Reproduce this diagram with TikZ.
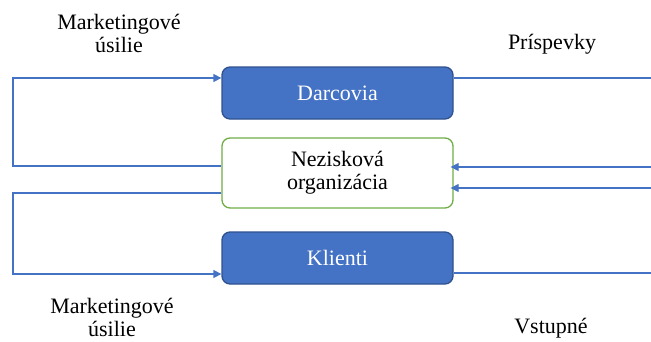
\documentclass[tikz,border=0pt]{standalone}
\usepackage{fontspec}
\setmainfont{Liberation Serif}
\usetikzlibrary{arrows.meta}
\definecolor{obox}{HTML}{4472C4}
\definecolor{oedge}{HTML}{2F528F}
\definecolor{ogreen}{HTML}{70AD47}
\begin{document}
\begin{tikzpicture}[x=1pt,y=1pt,
  bluebox/.style={draw=oedge,fill=obox,line width=1.3pt,rounded corners=8pt,minimum width=231pt,minimum height=52pt,text=white,font=\fontsize{22}{23}\selectfont,inner sep=0pt},
  greenbox/.style={draw=ogreen,fill=white,line width=1.3pt,rounded corners=8pt,minimum width=231pt,minimum height=70pt,align=center,font=\fontsize{22}{23}\selectfont,inner sep=0pt},
  lbl/.style={align=center,font=\fontsize{22}{23}\selectfont,inner sep=0pt},
  conn/.style={draw=obox,line width=1.3pt},
  arr/.style={conn,-{Triangle[length=8pt,width=8pt]}}]
\useasboundingbox (0,0) rectangle (651,341);
\node[bluebox] (dar) at (337.5,248) {Darcovia};
\node[greenbox] (nez) at (337.5,168) {Nezisková\\organizácia};
\node[bluebox] (kli) at (337.5,83) {Klienti};
\coordinate (r1) at (651,263);
\coordinate (r2) at (651,174);
\coordinate (r3) at (651,153);
\coordinate (r4) at (651,68);
% left loops
\draw[arr] (nez.west |- 0,175) -- (13,175) -- (13,263) -- (dar.west |- 0,263);
\draw[arr] (nez.west |- 0,148) -- (13,148) -- (13,67) -- (kli.west |- 0,67);
% right lines
\draw[conn] (dar.east |- r1) -- (r1);
\draw[arr,shorten >=-3pt] (r2) -- (nez.east |- r2);
\draw[arr,shorten >=-3pt] (r3) -- (nez.east |- r3);
\draw[conn] (kli.east |- r4) -- (r4);
% labels
\node[lbl] (m1) at (119,308) {Marketingové\\úsilie};
\node[lbl,anchor=base] (pr) at (552,291) {Príspevky};
\node[lbl] (m2) at (112,23.5) {Marketingové\\úsilie};
\node[lbl,anchor=base] (vs) at (551,8) {Vstupné};
\end{tikzpicture}
\end{document}
